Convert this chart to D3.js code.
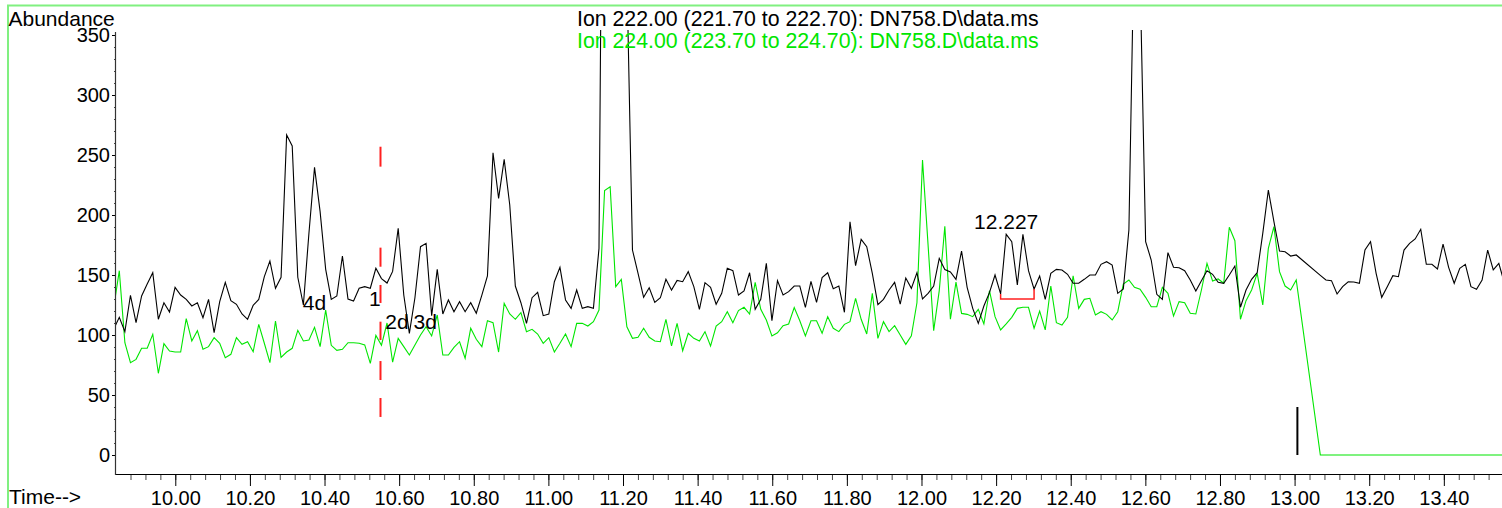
<!DOCTYPE html>
<html>
<head>
<meta charset="utf-8">
<script src="https://cdn.jsdelivr.net/npm/d3@7"></script>
<style>
  html, body { margin: 0; padding: 0; background: #fff; }
  svg { display: block; font-family: "Liberation Sans", Arial, sans-serif; }
</style>
</head>
<body>
<svg id="chart" width="1502" height="508"></svg>
<script>
// Extracted ion chromatograms, DN758.D — abundance per scan.
// Scans are evenly spaced within an acquisition segment; the second
// segment starts after the SIM group change near 13.00 min.
const SCAN_STEP = 0.01495;          // min between scans
const SEG1_START = 9.835;           // first scan (just left of the axis)
const SEG2_START = 13.069;

const ion222Seg1 = [
  105,
  114.7,102.8,133.1,110.3,132.5,142.5,151.9,113.1,126.9,119.2,
  139.7,133.3,129.7,124.2,126.9,114.4,129.7,101.9,127.8,143.9,
  128.6,125.6,117.5,113.1,124.7,129.7,148.6,161.7,138.9,148.1,
  266.7,257.5,148.1,125,185,239.7,202.8,154.7,129.7,132.5,
  165.8,130,128.3,138.9,140.3,139,155.6,147,143.3,153,
  188.9,133.3,101.4,131,173.6,176.4,116,154.7,117.5,129.2,
  119.4,127.8,119.4,126.9,118.1,133.3,149.2,251.9,213.9,246.4,
  208.3,140.8,126.9,109.7,131.1,135.6,116.1,117.5,144.4,156.4,
  129.2,122.2,137.5,122.2,123.6,122.2,172.2,790,1000,1100,
  900,400,170.8,151.4,131.4,139.4,127.2,131,146.4,137.5,
  145.5,144.4,152.8,140.3,121.4,143.6,139.7,125.6,134.7,155.6,
  153.6,133.3,136.7,151.9,121.4,129.7,159.7,111.9,145.3,133.3,
  136.1,140.8,140.8,123.1,144.7,127.2,147.8,151.9,138.6,140.8,
  118.9,194.4,157.8,179.7,173.6,151.4,125.3,129.7,137.5,143.9,
  125.8,147.5,138.9,151.9,130,134.7,140.8,163.9,154.5,152.5,
  146.4,170,139.7,122.2,109.7,124.2,135.3,150,134.2,183.9,
  177.8,141.7,183.9,153.6,138.3,149.2,129.7,151.4,154.7,154.2,
  150.6,143.1,143.1,146.4,150,150,158.9,161.1,158.3,134.7,
  138.3,187.5,446,400,177.8,162.5,133.9,129.7,168.6,156.4,
  156.1,153.6,145.8,136.7,145.3,153.6,150.6,143.9,143.1,150,
  157.5,123.1,137.5,146.4,151.9,184.7,220.8,194.4,170,169.4,
  165.8,166.7
];

const ion224Seg1 = [
  123,
  153.6,93.6,76.9,79.7,88.9,88.9,100.6,68.1,92.8,86.7,
  85.8,85.8,113.6,95,103.6,88.1,90.3,97.8,93.1,81.1,
  83.9,97.8,92.2,94.4,86.1,108.9,93.1,76.9,111.7,81.4,
  85.8,88.9,103.9,95,95.8,106.4,90.3,120.8,91.4,87.2,
  88.1,93.6,93.6,93.1,91.7,76.4,99.7,91.5,110,77.3,
  97.2,90.3,83.3,91.7,100,106.9,99.2,116.7,83.3,83.3,
  89.7,94.4,80.6,105.6,96.4,90.3,111.9,110.3,85.8,126.4,
  117.5,113.1,118.6,102.8,104.7,100.8,93.1,97.8,85.8,93.1,
  100.8,90.3,109.7,109.7,107.5,111.1,120.8,220.3,223.6,140.3,
  146.4,106.9,97.2,98.1,105.6,98.1,95,94.4,113.1,91,
  109.7,86.9,101.4,97.2,95,102.8,90.8,107.5,111.1,119.4,
  110.3,120.3,123.1,117.5,143.9,121.4,112.5,99.2,101.9,107.8,
  109.2,122.8,111.9,99.2,111.9,111.9,101.4,115.3,105.6,102.8,
  108.9,111.1,130.6,113.1,100.8,134.7,97.2,111.1,102.8,107.8,
  100,92.2,99.4,126.9,245.8,174.7,103.6,137,190.5,113.1,
  144,118,117.2,115.3,121.4,109.2,136.9,115.3,104.2,109.2,
  114.7,122.2,123.1,123.1,105.6,120,104.2,140.8,110.3,108.3,
  114.7,149.4,122.2,129.7,130.6,116.7,119.4,117.2,112.5,119.4,
  142.5,145.8,139.7,138.1,131.4,123.6,123.6,139.7,134.7,115.8,
  127.8,126.9,118.1,117.5,137.5,159.7,145,146.7,143.1,189.8,
  178.6,113.1,128.6,137.5,151.4,125,172.2,190.3,152.8,140.8,
  137.5,145.8
];

const ion222Seg2 = [
  149.7,145.8,145.3,134.2,140.3,144.4,144.2,143.1,170.8,177.8,
  151.4,131.4,140.3,149.4,148.6,170.8,176.4,180,188.1,158.9,
  158.9,155,175.8,156.4,143.1,155.6,158.9,140.3,138.1,145.8,
  170.8,154.2,159.7,143.2
];

const ion224Seg2 = [
  0,0,0,0,0,0,0,0,0,0,
  0,0,0,0,0,0,0,0,0,0,
  0,0,0,0,0,0,0,0,0,0,
  0,0,0,0
];

const xMajorTicks = [10.0,10.2,10.4,10.6,10.8,11.0,11.2,11.4,11.6,11.8,12.0,12.2,12.4,12.6,12.8,13.0,13.2,13.4];
const yMajorTicks = [0,50,100,150,200,250,300,350];

const titles = [
  { text: "Ion 222.00 (221.70 to 222.70): DN758.D\\data.ms", color: "#000000" },
  { text: "Ion 224.00 (223.70 to 224.70): DN758.D\\data.ms", color: "#00e600" }
];

// Peak labels placed by the integrator
const peakLabels = [
  { text: "4d", t: 10.373, v: 121 },
  { text: "1", t: 10.535, v: 124 },
  { text: "2d", t: 10.594, v: 105 },
  { text: "3d", t: 10.670, v: 105 },
  { text: "12.227", t: 12.227, v: 188 }
];

// Expected retention-time marker (dashed, abundance ranges of each dash)
const rtMarkerTime = 10.55;
const rtMarkerDashes = [[240.3,256.9],[156.9,172.8],[126.7,141.7],[95.8,111.1],[62.5,78.3],[31.7,47.5]];

// Integration baseline of the 12.227 peak (scan indices in segment 1, baseline level)
const integration = { startScan: 159, endScan: 165, level: 130 };

// Segment-change event mark
const eventMark = { t: 13.0075, from: 0, to: 40 };

// ---------------------------------------------------------------
const svg = d3.select("#chart");
const W = 1502, H = 508;
const plot = { left: 116, right: 1502, top: 30, bottom: 474 };

const x = d3.scaleLinear().domain([9.8411, 13.5559]).range([plot.left, plot.right]);
const y = d3.scaleLinear().domain([0, 350]).range([455, 35]);

const GREEN = "#00e600";

function toPoints(start, values) {
  return values.map((v, i) => ({ t: start + i * SCAN_STEP, v }));
}
const trace222 = toPoints(SEG1_START, ion222Seg1).concat(toPoints(SEG2_START, ion222Seg2));
const trace224 = toPoints(SEG1_START, ion224Seg1).concat(toPoints(SEG2_START, ion224Seg2));

// Frame
svg.append("rect")
  .attr("x", 8).attr("y", 5.5)
  .attr("width", W + 10).attr("height", H + 10)
  .attr("fill", "none").attr("stroke", "#80f080").attr("stroke-width", 2);

// Clip region for the traces
svg.append("defs").append("clipPath").attr("id", "plotClip")
  .append("rect")
  .attr("x", plot.left).attr("y", plot.top)
  .attr("width", plot.right - plot.left).attr("height", plot.bottom - plot.top);

// X axis: major + minor ticks
const xMinor = d3.range(0, 93).map(i => +(9.88 + i * 0.04).toFixed(2)).filter(t => t <= 13.55);
const gxMinor = svg.append("g").attr("transform", `translate(0,${plot.bottom})`)
  .call(d3.axisBottom(x).tickValues(xMinor).tickSize(6).tickFormat(""));
gxMinor.select(".domain").remove();
gxMinor.selectAll("line").attr("stroke", "#444");

const gx = svg.append("g").attr("transform", `translate(0,${plot.bottom})`)
  .call(d3.axisBottom(x).tickValues(xMajorTicks).tickSize(12).tickPadding(5).tickFormat(d3.format(".2f")));
gx.select(".domain").remove();
gx.selectAll("line").attr("stroke", "#000");
gx.selectAll("text").attr("font-size", 20).attr("fill", "#000")
  .attr("font-family", '"Liberation Sans", Arial, sans-serif');

svg.append("line")
  .attr("x1", plot.left).attr("x2", plot.right)
  .attr("y1", plot.bottom + 0.5).attr("y2", plot.bottom + 0.5)
  .attr("stroke", "#000").attr("stroke-width", 1.2);

// Y axis: major + minor ticks
const yMinor = d3.range(0, 36).map(i => i * 10);
const gyMinor = svg.append("g").attr("transform", `translate(${plot.left},0)`)
  .call(d3.axisLeft(y).tickValues(yMinor).tickSize(2).tickFormat(""));
gyMinor.select(".domain").remove();
gyMinor.selectAll("line").attr("stroke", "#444");

const gy = svg.append("g").attr("transform", `translate(${plot.left},0)`)
  .call(d3.axisLeft(y).tickValues(yMajorTicks).tickSize(4).tickPadding(2).tickFormat(d3.format("d")));
gy.select(".domain").remove();
gy.selectAll("line").attr("stroke", "#000");
gy.selectAll("text").attr("font-size", 20).attr("fill", "#000")
  .attr("font-family", '"Liberation Sans", Arial, sans-serif');

svg.append("line")
  .attr("x1", plot.left - 0.5).attr("x2", plot.left - 0.5)
  .attr("y1", 32).attr("y2", plot.bottom + 1)
  .attr("stroke", "#333").attr("stroke-width", 1.2);

// Axis titles
svg.append("text").attr("x", 8.5).attr("y", 26).attr("font-size", 21).text("Abundance");
svg.append("text").attr("x", 9).attr("y", 504).attr("font-size", 21).text("Time-->");

// Traces
const line = d3.line().x(d => x(d.t)).y(d => y(d.v));
const traces = svg.append("g").attr("clip-path", "url(#plotClip)");

traces.append("path").datum(trace224)
  .attr("d", line).attr("fill", "none").attr("stroke", GREEN).attr("stroke-width", 1.1);
traces.append("path").datum(trace222)
  .attr("d", line).attr("fill", "none").attr("stroke", "#000").attr("stroke-width", 1.1);

// Expected RT marker
svg.append("g").selectAll("line").data(rtMarkerDashes).join("line")
  .attr("x1", x(rtMarkerTime)).attr("x2", x(rtMarkerTime))
  .attr("y1", d => y(d[0])).attr("y2", d => y(d[1]))
  .attr("stroke", "#ff2020").attr("stroke-width", 2);

// Integration baseline
const p0 = trace222[integration.startScan], p1 = trace222[integration.endScan];
svg.append("path")
  .attr("d", d3.line()([
    [x(p0.t), y(p0.v)], [x(p0.t), y(integration.level)],
    [x(p1.t), y(integration.level)], [x(p1.t), y(p1.v)]
  ]))
  .attr("fill", "none").attr("stroke", "#ff2020").attr("stroke-width", 1.5);

// Event mark
svg.append("line")
  .attr("x1", x(eventMark.t)).attr("x2", x(eventMark.t))
  .attr("y1", y(eventMark.from)).attr("y2", y(eventMark.to))
  .attr("stroke", "#000").attr("stroke-width", 2);

// Peak labels
svg.append("g").selectAll("text").data(peakLabels).join("text")
  .attr("x", d => x(d.t)).attr("y", d => y(d.v))
  .attr("text-anchor", "middle").attr("font-size", 21).attr("fill", "#000")
  .text(d => d.text);

// Trace titles
svg.append("g").selectAll("text").data(titles).join("text")
  .attr("x", 577).attr("y", (d, i) => 26 + i * 22)
  .attr("font-size", 21.3).attr("fill", d => d.color)
  .text(d => d.text);
</script>
</body>
</html>
